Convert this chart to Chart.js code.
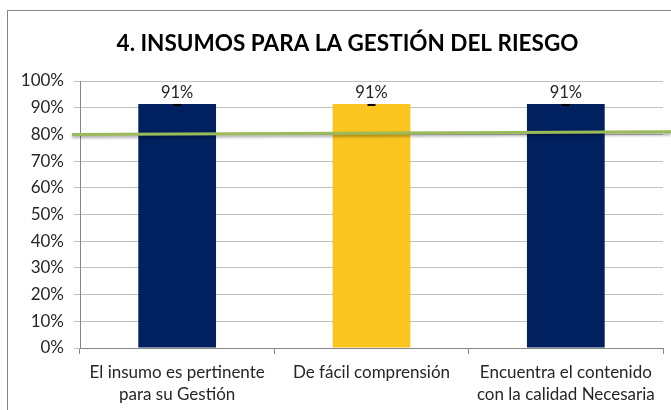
<!DOCTYPE html>
<html><head><meta charset="utf-8">
<script src="https://cdn.jsdelivr.net/npm/chart.js@4.4.1/dist/chart.umd.min.js"></script>
<style>
html,body{margin:0;padding:0;background:#fff;}
#wrap{position:relative;width:671px;height:410px;overflow:hidden;}
#frame{position:absolute;left:7px;top:10px;width:700px;height:440px;border:1px solid #878787;box-sizing:border-box;}
canvas{position:absolute;left:0;top:0;}
</style></head><body>
<div id="wrap"><div id="frame"></div><canvas id="c" width="671" height="410"></canvas></div>
<script>
const titleText = '4. INSUMOS PARA LA GESTIÓN DEL RIESGO';
const categories = [['El insumo es pertinente','para su Gestión'],['De fácil comprensión'],['Encuentra el contenido','con la calidad Necesaria']];
const values = [91.4, 91.4, 91.4];
const barColors = ['#002060', '#FBC520', '#002060'];
const yTicks = [0,10,20,30,40,50,60,70,80,90,100];
const refLine = [80, 81];  // green reference line: left value, right value

const FONT = "Lato, 'Liberation Sans', sans-serif";

const overlay = {
  id:'overlay',
  afterDraw(chart){
    const ctx = chart.ctx;
    ctx.save();
    ctx.fillStyle = '#000'; ctx.font = 'bold 22.5px '+FONT;
    ctx.textAlign = 'center'; ctx.textBaseline = 'middle';
    ctx.fillText(titleText, 347.5, 44);
    ctx.restore();
  },
  afterDatasetsDraw(chart){
    const ctx = chart.ctx, y = chart.scales.y, meta = chart.getDatasetMeta(0);
    ctx.save();
    meta.data.forEach((bar,i)=>{
      ctx.strokeStyle='#000'; ctx.lineWidth=2;
      ctx.beginPath(); ctx.moveTo(bar.x-4, bar.y+1); ctx.lineTo(bar.x+4, bar.y+1); ctx.stroke();
      ctx.fillStyle='#262626'; ctx.font = '16.5px '+FONT;
      ctx.textAlign='center'; ctx.textBaseline='middle';
      ctx.fillText(Math.round(values[i])+'%', bar.x, bar.y-11);
    });
    const x0 = chart.chartArea.left - 8, x1 = chart.width;
    ctx.shadowColor='rgba(0,0,0,0.35)'; ctx.shadowBlur=3; ctx.shadowOffsetY=2;
    ctx.strokeStyle='#9BBB59'; ctx.lineWidth=3;
    ctx.beginPath(); ctx.moveTo(x0, y.getPixelForValue(refLine[0])); ctx.lineTo(x1, y.getPixelForValue(refLine[1])); ctx.stroke();
    ctx.restore();
  }
};

new Chart(document.getElementById('c'), {
  type:'bar',
  data:{labels:categories, datasets:[{data:values, backgroundColor:barColors, barPercentage:0.5, categoryPercentage:0.8}]},
  options:{
    responsive:false, animation:false,
    layout:{padding:{left:10, right:8, top:81, bottom:0}},
    plugins:{ legend:{display:false}, tooltip:{enabled:false}, title:{display:false} },
    scales:{
      x:{
        afterFit(s){ s.height = 62; },
        grid:{offset:true, drawOnChartArea:false, drawTicks:true, tickLength:6, color:'#878787'},
        border:{color:'#878787'},
        ticks:{color:'#262626', font:{family:FONT, size:17, lineHeight:1.3}, padding:7}
      },
      y:{
        min:0, max:100,
        afterBuildTicks(s){ s.ticks = yTicks.map(v=>({value:v})); },
        afterFit(s){ s.width = 70; },
        grid:{color:'#C0C0C0', tickLength:6},
        border:{color:'#878787'},
        ticks:{color:'#262626', font:{family:FONT, size:17}, padding:10, callback:v=>v+'%'}
      }
    }
  },
  plugins:[overlay]
});
</script></body></html>
